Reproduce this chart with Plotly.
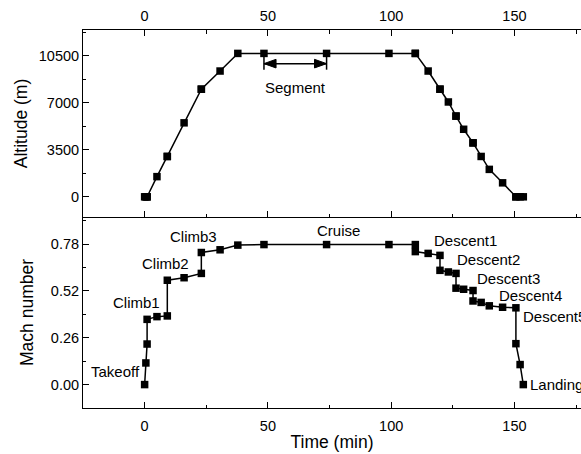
import plotly.graph_objects as go

# ---------------- data ----------------
time_min = [0, 0.5, 1, 1, 5, 9.2, 9.2, 16, 23, 23, 30.6, 37.8, 48.4, 73.8, 99.1,
            109.8, 109.8, 115, 119.8, 119.8, 123.2, 126.3, 126.3, 129.4, 133.2, 133.2,
            136.5, 139.8, 145.2, 150.6, 150.6, 152.3, 153.6]
altitude_m = [0, 0, 0, 0, 1500, 3000, 3000, 5500, 8000, 8000, 9350, 10660, 10660, 10660, 10660,
              10660, 10660, 9350, 8000, 8000, 7050, 6000, 6000, 5020, 4010, 4010,
              3000, 2040, 1040, 0, 0, 0, 0]
mach_number = [0, 0.12, 0.225, 0.362, 0.377, 0.381, 0.579, 0.593, 0.617, 0.733, 0.748, 0.774, 0.777, 0.777, 0.777,
               0.777, 0.738, 0.728, 0.717, 0.634, 0.625, 0.617, 0.535, 0.529, 0.522, 0.464,
               0.456, 0.437, 0.429, 0.426, 0.227, 0.111, 0]

x_ticks = [0, 50, 100, 150]
alt_ticks = [0, 3500, 7000, 10500]
mach_ticks = [0.00, 0.26, 0.52, 0.78]

phase_labels = ["Takeoff", "Climb1", "Climb2", "Climb3", "Cruise",
                "Descent1", "Descent2", "Descent3", "Descent4", "Descent5", "Landing"]
segment_label = "Segment"
segment_idx = (12, 13)   # cruise points bounding the marked segment

# ---------------- layout helpers (positions of the text labels) ----------------
# (x in min, y in Mach, xanchor)
label_place = [(-1.0, 0.072, "right"), (-3.5, 0.454, "center"), (8.35, 0.673, "center"),
               (19.7, 0.821, "center"), (78.8, 0.854, "center"), (116.6, 0.799, "left"),
               (125.8, 0.695, "left"), (134.2, 0.590, "left"), (142.8, 0.493, "left"),
               (152.5, 0.377, "left"), (155.3, 0.002, "left")]

FONT = "Liberation Sans, Arial, Helvetica, sans-serif"
W, H = 581, 454
mt, mb, ml, mr = 30, 46, 83, 0
split = (H - mb - 217) / (H - mt - mb)

marker = dict(symbol="square", size=7.5, color="black", line=dict(width=0))
line = dict(color="black", width=1.5)

fig = go.Figure()
fig.add_trace(go.Scatter(x=time_min, y=altitude_m, mode="lines+markers",
                         marker=marker, line=line, xaxis="x", yaxis="y",
                         showlegend=False, hoverinfo="skip"))
fig.add_trace(go.Scatter(x=time_min, y=mach_number, mode="lines+markers",
                         marker=marker, line=line, xaxis="x2", yaxis="y2",
                         showlegend=False, hoverinfo="skip"))

axis_common = dict(showgrid=False, zeroline=False, showline=True, linecolor="black",
                   linewidth=1, ticks="inside", ticklen=6, tickwidth=1, tickcolor="black",
                   tickfont=dict(family=FONT, size=14.5, color="black"))
xrange = [-25, 177]
x_minor = dict(ticks="inside", ticklen=3.5, tickvals=[-25, 25, 75, 125, 175],
               tickcolor="black", showgrid=False)

fig.update_layout(
    width=W, height=H, margin=dict(l=ml, r=mr, t=mt, b=mb),
    paper_bgcolor="white", plot_bgcolor="white",
    font=dict(family=FONT, color="black"),
    xaxis=dict(**axis_common, domain=[0, 1], anchor="y", side="top", range=xrange,
               tickvals=x_ticks, mirror="ticks", ticklabelstandoff=2, minor=x_minor),
    xaxis2=dict(**axis_common, domain=[0, 1], anchor="y2", side="bottom", range=xrange,
                tickvals=x_ticks, ticklabelstandoff=5, minor=x_minor,
                title=dict(text="Time (min)", font=dict(family=FONT, size=17.5), standoff=2)),
    yaxis=dict(**axis_common, domain=[split, 1], anchor="x", range=[-1500, 12400],
               tickvals=alt_ticks, tickformat="d",
               minor=dict(ticks="inside", ticklen=3, tickvals=[1750, 5250, 8750, 12250],
                          tickcolor="black", showgrid=False),
               title=dict(text="Altitude (m)", font=dict(family=FONT, size=17.5), standoff=6)),
    yaxis2=dict(**axis_common, domain=[0, split], anchor="x2", range=[-0.13, 0.93],
                tickvals=mach_ticks, tickformat=".2f",
                minor=dict(ticks="inside", ticklen=3, tickvals=[0.13, 0.39, 0.65, 0.91],
                           tickcolor="black", showgrid=False),
                title=dict(text="Mach number", font=dict(family=FONT, size=17.5), standoff=12)),
)

annotations = []
for name, (lx, ly, anc) in zip(phase_labels, label_place):
    annotations.append(dict(x=lx, y=ly, xref="x2", yref="y2", text=name, showarrow=False,
                            xanchor=anc, yanchor="middle",
                            font=dict(family=FONT, size=15, color="black")))

# Segment bracket: end bars, shaft and filled arrow heads
s0, s1 = time_min[segment_idx[0]], time_min[segment_idx[1]]
a_top = altitude_m[segment_idx[0]]
arrow_y = 9900
bar_bottom = 9450
head_len = 4.9      # min
head_half = 320     # m
mid = (s0 + s1) / 2
blk = dict(color="black", width=1.5)
for tip in (s0, s1):
    fig.add_shape(type="line", xref="x", yref="y", x0=tip, x1=tip, y0=bar_bottom, y1=a_top, line=blk)
fig.add_shape(type="line", xref="x", yref="y", x0=s0, x1=s1, y0=arrow_y, y1=arrow_y, line=blk)
for tip, sgn in ((s0, 1), (s1, -1)):
    base = tip + sgn * head_len
    fig.add_shape(type="path", xref="x", yref="y",
                  path=f"M {tip},{arrow_y} L {base},{arrow_y + head_half} L {base},{arrow_y - head_half} Z",
                  fillcolor="black", line=dict(color="black", width=1))
annotations.append(dict(x=mid, y=8160, xref="x", yref="y", text=segment_label, showarrow=False,
                        xanchor="center", yanchor="middle",
                        font=dict(family=FONT, size=15, color="black")))
fig.update_layout(annotations=annotations)

fig.write_html("out.html")
